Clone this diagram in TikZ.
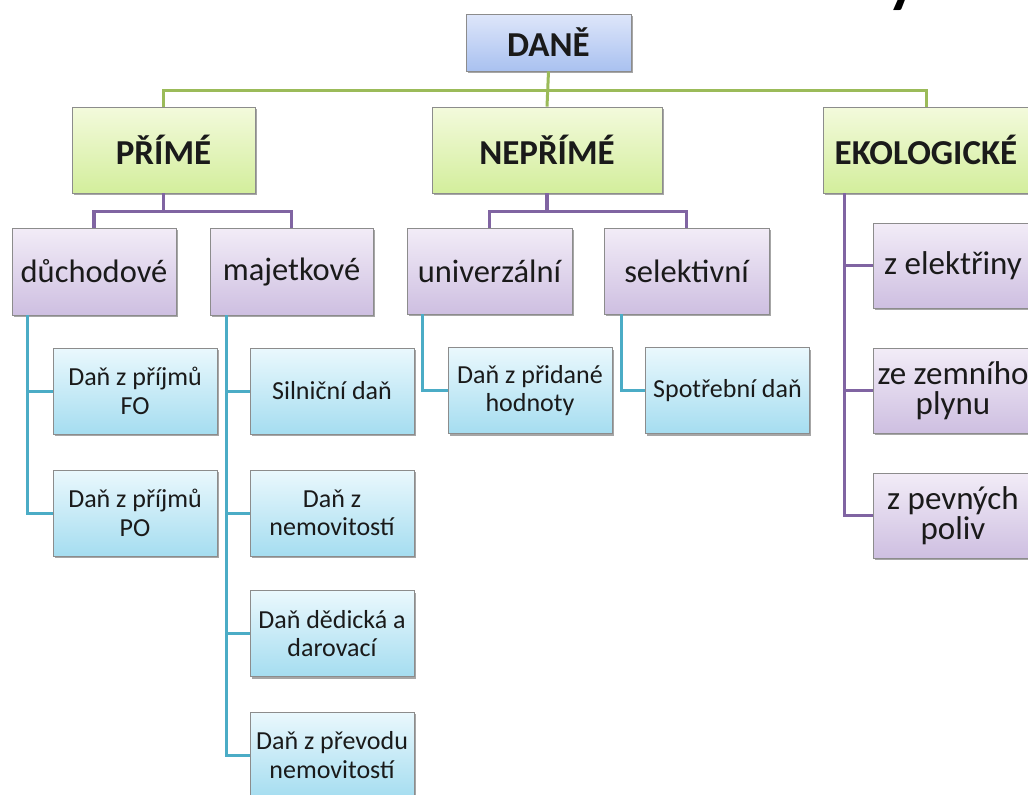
\documentclass[tikz,border=0pt]{standalone}
\usepackage{fontspec}
\setmainfont{Carlito}
\usetikzlibrary{shadows}
\definecolor{gcol}{HTML}{9BBB59}
\definecolor{pcol}{HTML}{8064A2}
\definecolor{tcol}{HTML}{4BACC6}
\definecolor{bordc}{HTML}{8C8C8C}
\definecolor{txt}{HTML}{1A1A1A}
\definecolor{blueT}{HTML}{DEE6FA}
\definecolor{blueB}{HTML}{A9C1F0}
\definecolor{greenT}{HTML}{F3FADC}
\definecolor{greenB}{HTML}{D3EE9C}
\definecolor{purT}{HTML}{F2ECF7}
\definecolor{purB}{HTML}{CEBFE1}
\definecolor{cyanT}{HTML}{EAF8FD}
\definecolor{cyanB}{HTML}{A5DDF0}
\tikzset{
  x=1pt, y=-1pt,
  box/.style={draw=bordc, line width=0.8pt, inner sep=0pt, align=center, text=txt,
    drop shadow={shadow xshift=1.5pt, shadow yshift=-2pt, opacity=0.35, fill=black}},
  fA/.style={font=\fontsize{35}{40}\selectfont\bfseries},
  fB/.style={font=\fontsize{32.5}{31}\selectfont},
  fBB/.style={font=\fontsize{33}{30}\selectfont},
  fC/.style={font=\fontsize{26}{28.5}\selectfont},
  bluebox/.style={box, fA, top color=blueT, bottom color=blueB},
  greenbox/.style={box, fA, top color=greenT, bottom color=greenB, minimum height=86pt},
  purbox/.style={box, fB, top color=purT, bottom color=purB},
  ekobox/.style={box, fBB, top color=purT, bottom color=purB, minimum width=160pt, minimum height=85pt},
  cyanbox/.style={box, fC, top color=cyanT, bottom color=cyanB, minimum width=164pt, minimum height=86pt},
  gl/.style={draw=gcol, line width=3pt},
  pl/.style={draw=pcol, line width=3.2pt},
  tl/.style={draw=tcol, line width=3pt},
  titlefrag/.style={anchor=base, inner sep=0pt, text=black, font=\fontsize{64}{68}\selectfont\bfseries}
}
\begin{document}
\begin{tikzpicture}
\path[use as bounding box] (0,0) rectangle (1028,795);
\clip (0,0) rectangle (1028,795);
\fill[white] (0,0) rectangle (1028,795);

\node[titlefrag] (ttl) at (903,1) {y};

% level 0 and 1
\node[bluebox, minimum width=165pt, minimum height=57pt] (dane) at (548.5,42.5) {DANĚ};
\node[greenbox, minimum width=183pt] (prime) at (163.5,150) {PŘÍMÉ};
\node[greenbox, minimum width=230pt] (neprime) at (547,150) {NEPŘÍMÉ};
\node[greenbox, minimum width=206pt] (eko) at (926,150) {EKOLOGICKÉ};

% level 2
\node[purbox, minimum width=164pt, minimum height=87pt] (duch) at (94,271.5) {důchodové};
\node[purbox, minimum width=163pt, minimum height=87pt] (majet) at (291.5,271.5) {majetkové};
\node[purbox, minimum width=165pt, minimum height=86pt] (univ) at (489.5,271) {univerzální};
\node[purbox, minimum width=165pt, minimum height=86pt] (selek) at (686.5,271) {selektivní};
\node[ekobox] (zel) at (953,265.5) {z elektřiny};
\node[ekobox] (zem) at (953,390.5) {ze zemního\\plynu};
\node[ekobox] (zpev) at (953,515.5) {z pevných\\poliv};

% level 3
\node[cyanbox] (fo) at (135,391) {Daň z příjmů\\FO};
\node[cyanbox] (po) at (135,513) {Daň z příjmů\\PO};
\node[cyanbox] (siln) at (332,391) {Silniční daň};
\node[cyanbox] (nemo) at (332,513) {Daň z\\nemovitostí};
\node[cyanbox] (dedi) at (332,633.5) {Daň dědická a\\darovací};
\node[cyanbox] (prev) at (332,755) {Daň z převodu\\nemovitostí};
\node[cyanbox] (prid) at (530,390.5) {Daň z přidané\\hodnoty};
\node[cyanbox] (spot) at (727.5,390.5) {Spotřební daň};

% green connectors
\draw[gl] (dane.south) -- (neprime.north);
\draw[gl] (prime.north) -- ++(0,-16) -| (eko.north);

% purple connectors
\draw[pl] (prime.south) -- ++(0,19);
\draw[pl] (duch.north) -- ++(0,-16) -| (majet.north);
\draw[pl] (neprime.south) -- ++(0,19);
\draw[pl] (univ.north) -- ++(0,-16) -| (selek.north);
\coordinate (ekv) at ([xshift=22pt]eko.south west);
\draw[pl] (ekv) |- (zpev.west);
\draw[pl] (ekv |- zel.west) -- (zel.west);
\draw[pl] (ekv |- zem.west) -- (zem.west);

% teal connectors
\coordinate (dv) at ([xshift=16pt]duch.south west);
\draw[tl] (dv) |- (po.west);
\draw[tl] (dv |- fo.west) -- (fo.west);
\coordinate (mv) at ([xshift=17pt]majet.south west);
\draw[tl] (mv) |- (prev.west);
\draw[tl] (mv |- siln.west) -- (siln.west);
\draw[tl] (mv |- nemo.west) -- (nemo.west);
\draw[tl] (mv |- dedi.west) -- (dedi.west);
\coordinate (uv) at ([xshift=16pt]univ.south west);
\draw[tl] (uv) |- (prid.west);
\coordinate (sv) at ([xshift=18pt]selek.south west);
\draw[tl] (sv) |- (spot.west);
\end{tikzpicture}
\end{document}
